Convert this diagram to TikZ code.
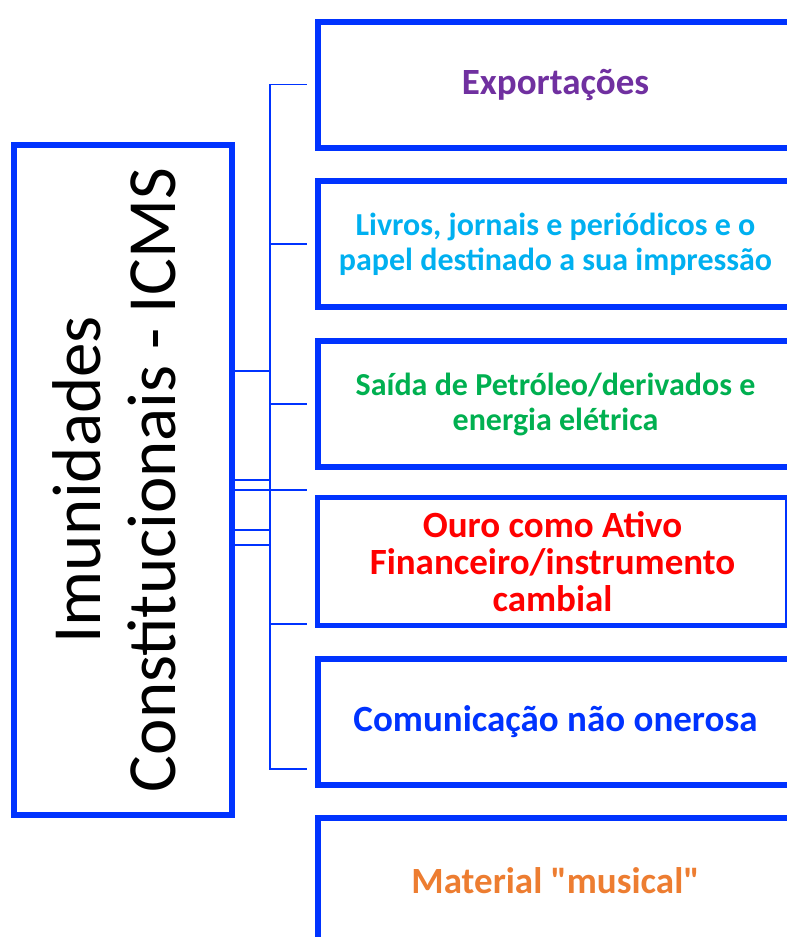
\documentclass[tikz,border=0pt]{standalone}
\usepackage{fontspec}
\setmainfont{Carlito}[Ligatures=TeXOff]
\usepackage{graphicx}
\usepackage{xcolor}
\usetikzlibrary{positioning}
\definecolor{frameblue}{HTML}{0033FF}
\definecolor{expopurple}{HTML}{7030A0}
\definecolor{livrocyan}{HTML}{00B0F0}
\definecolor{petrogreen}{HTML}{00B050}
\definecolor{ourored}{HTML}{FF0000}
\definecolor{musicorange}{HTML}{ED7D31}

\begin{document}
\begin{tikzpicture}[x=1pt, y=-1pt,
    itembox/.style={draw=frameblue, line width=6pt, anchor=north west,
      minimum width=475pt, minimum height=126pt, align=center, inner sep=0pt,
      font=\bfseries\fontsize{37}{37}\selectfont},
    smalltext/.style={font=\bfseries\fontsize{32}{35}\selectfont},
    link/.style={draw=frameblue, line width=1.2pt}]
  \useasboundingbox (0,0) rectangle (787,937);

  \node[draw=frameblue, line width=6pt, minimum width=218pt, minimum height=670pt, inner sep=0pt]
    (icms) at (123,480) {\rotatebox{90}{\fontsize{69}{77}\selectfont
      \begin{tabular}{@{}c@{}}Imunidades\\[-2pt]Constitucionais - ICMS\end{tabular}}};

  \node[itembox, text=expopurple] (exp) at (315,18.5) {Exportações};
  \node[itembox, smalltext, text=livrocyan] (livros) at (315,178)
    {Livros, jornais e periódicos e o\\papel destinado a sua impressão};
  \node[itembox, smalltext, text=petrogreen] (petro) at (315,338)
    {Saída de Petróleo/derivados e\\energia elétrica};
  \node[itembox, line width=5pt, minimum width=470pt, minimum height=128pt, text=ourored] (ouro) at (315,495)
    {Ouro como Ativo\\Financeiro/instrumento\\cambial};
  \node[itembox, text=frameblue] (comun) at (315,656) {Comunicação não onerosa};
  \node[itembox, text=musicorange] (musical) at (315,815) {Material "musical"};

  % connectors
  \coordinate (hub) at (270,371);
  \coordinate (tipA) at (307,490);
  \coordinate (tipB) at (307,624);
  \coordinate (tipC) at (307,769);
  \foreach \nm/\yy in {stubA/480, stubB/530, stubC/545}
    \coordinate (\nm) at (270,\yy);

  \draw[link] (icms.east |- hub) -- (hub);
  \foreach \tgt in {exp, livros, petro}
    \draw[link] (hub) |- ([xshift=-8pt]\tgt.west);
  \draw[link] (hub) |- (tipB);
  \draw[link] (hub) |- (tipC);
  \draw[link] (icms.east |- tipA) -- (tipA);
  \foreach \nm in {stubA, stubB, stubC}
    \draw[link] (icms.east |- \nm) -- (\nm);
\end{tikzpicture}
\end{document}
